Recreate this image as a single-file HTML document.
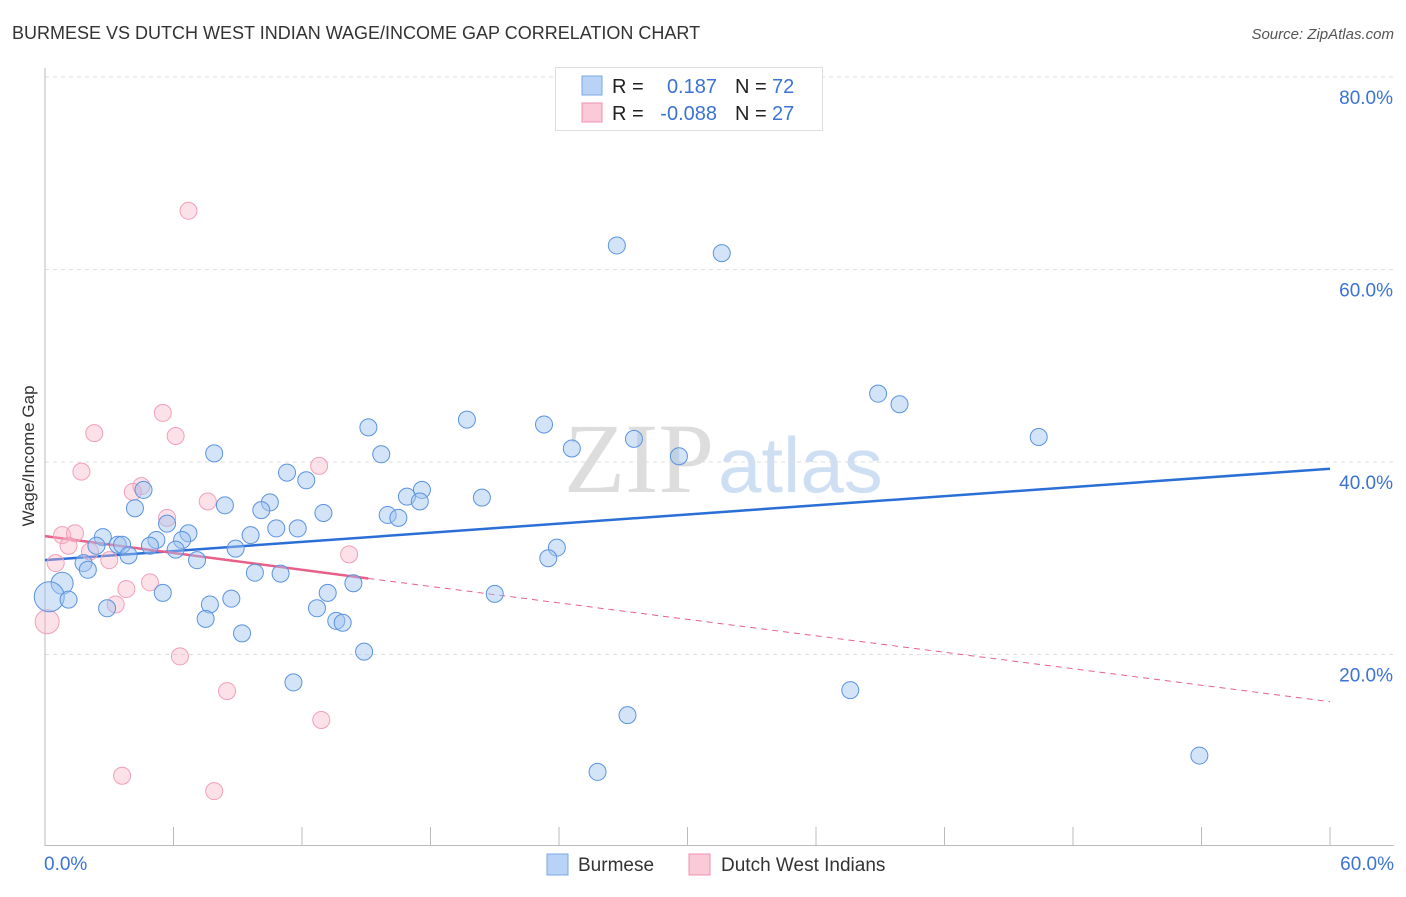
<!DOCTYPE html>
<html><head><meta charset="utf-8"><style>
body{margin:0;background:#fff;font-family:"Liberation Sans",sans-serif;}
svg text{font-family:"Liberation Sans",sans-serif;}
</style></head><body>
<svg id="chart" width="1406" height="892">
<text x="12" y="39" font-size="18" fill="#333">BURMESE VS DUTCH WEST INDIAN WAGE/INCOME GAP CORRELATION CHART</text>
<text x="1394" y="39" font-size="15" fill="#555" font-style="italic" text-anchor="end">Source: ZipAtlas.com</text>
<text x="714" y="492" font-size="100" fill="#ddd" style="font-family:'Liberation Serif',serif" text-anchor="end">ZIP</text>
<text x="718" y="492" font-size="78" fill="#cfdff3">atlas</text>
<g id="grid"></g><g id="axes"></g><g id="lines"></g><g id="pts"></g>
<text transform="translate(34,456) rotate(-90)" font-size="17" fill="#333" text-anchor="middle">Wage/Income Gap</text>
<g>
<rect x="555.5" y="67.5" width="267" height="63" fill="#fff" stroke="#ddd"/>
<rect x="582" y="76" width="20" height="19" fill="#b8d3f5" stroke="#7aa7e6"/>
<rect x="582" y="103" width="20" height="19" fill="#fbcad8" stroke="#f090ae"/>
<text x="612" y="93" font-size="20" fill="#222">R = </text><text x="717" y="93" font-size="20" fill="#3b73d4" text-anchor="end">0.187</text>
<text x="735" y="93" font-size="20" fill="#222">N = </text><text x="772" y="93" font-size="20" fill="#3b73d4">72</text>
<text x="612" y="120" font-size="20" fill="#222">R = </text><text x="717" y="120" font-size="20" fill="#3b73d4" text-anchor="end">-0.088</text>
<text x="735" y="120" font-size="20" fill="#222">N = </text><text x="772" y="120" font-size="20" fill="#3b73d4">27</text>
</g>
<g>
<rect x="547" y="854" width="21" height="21" fill="#b8d3f5" stroke="#7aa7e6"/>
<text x="578" y="871" font-size="19" fill="#333">Burmese</text>
<rect x="689" y="854" width="21" height="21" fill="#fbcad8" stroke="#f090ae"/>
<text x="721" y="871" font-size="19" fill="#333">Dutch West Indians</text>
</g>
</svg>
<script>
const blueX=[26.7,31.6,38.9,39.9,46.4,19.7,23.3,15.1,27.5,7.9,15.7,24.6,29.6,11.3,12.2,4.6,17.6,20.4,16.9,10.5,17.5,8.4,4.2,10.1,13.0,16.0,16.5,5.7,10.8,11.8,6.7,9.6,2.7,5.2,6.4,2.4,3.4,3.6,4.9,6.1,8.9,23.9,3.9,23.5,7.1,1.8,2.0,9.8,11.0,14.4,0.8,5.5,13.2,21.0,0.2,1.1,8.7,7.7,2.9,12.7,7.5,13.6,13.9,9.2,14.9,11.6,37.6,27.2,25.8,53.9];
const blueY=[62.5,61.7,47.1,46.0,42.6,44.4,43.9,43.6,42.4,40.9,40.8,41.4,40.6,38.9,38.1,37.1,37.1,36.3,36.4,35.8,35.9,35.5,35.2,35.0,34.7,34.5,34.2,33.6,33.1,33.1,32.6,32.4,32.2,31.9,31.9,31.3,31.4,31.4,31.3,30.9,31.0,31.1,30.3,30.0,29.8,29.5,28.8,28.5,28.4,27.4,27.4,26.4,26.4,26.3,26.0,25.7,25.8,25.2,24.8,24.8,23.7,23.5,23.3,22.2,20.3,17.1,16.3,13.7,7.8,9.5];
const blueBig=[0,0,0,0,0,0,0,0,0,0,0,0,0,0,0,0,0,0,0,0,0,0,0,0,0,0,0,0,0,0,0,0,0,0,0,0,0,0,0,0,0,0,0,0,0,0,0,0,0,0,1,0,0,0,2,0,0,0,0,0,0,0,0,0,0,0,0,0,0,0];
const pinkX=[6.7,5.5,2.3,6.1,1.7,12.8,4.5,4.1,7.6,5.7,0.8,1.4,1.1,2.1,3.0,0.5,14.2,4.9,3.8,3.3,0.1,6.3,8.5,12.9,3.6,7.9];
const pinkY=[66.1,45.1,43.0,42.7,39.0,39.6,37.5,36.9,35.9,34.2,32.4,32.6,31.3,30.7,29.8,29.5,30.4,27.5,26.8,25.2,23.4,19.8,16.2,13.2,7.4,5.8];
const yTicks=[20,40,60,80];
const xTickCount=10;
const blueTrend=[0,29.8,60,39.3];
const pinkTrend=[0,32.3,15.1,27.9,60,15.1];
const NS='http://www.w3.org/2000/svg';
const sx=v=>45+v/60*1285, sy=v=>847-v/80*770;
function mk(p,t,a){const e=document.createElementNS(NS,t);for(const k in a)e.setAttribute(k,a[k]);document.getElementById(p).appendChild(e);return e;}
yTicks.forEach(t=>{
 const l=mk('grid','line',{x1:45,x2:1394,y1:sy(t),y2:sy(t),stroke:'#ddd','stroke-dasharray':'4,4'});
 
 
 const tx=mk('grid','text',{x:1393,y:sy(t)+27,'font-size':19,fill:'#3b73d4','text-anchor':'end'});tx.textContent=t.toFixed(1)+'%';
 
 
});
const ax=mk('axes','line',{x1:45,x2:45,y1:68,y2:846,stroke:'#bbb'});


const bx=mk('axes','line',{x1:45,x2:1394,y1:845.5,y2:845.5,stroke:'#bbb'});


for(let i=1;i<=xTickCount;i++){const x=sx(i*6);const t=mk('axes','line',{x1:x,x2:x,y1:827,y2:845,stroke:'#bbb'});
 
 }
[[0,'start',44],[60,'end',1394]].forEach(([v,a,x])=>{const t=mk('axes','text',{x:x,y:870,'font-size':19,fill:'#3b73d4','text-anchor':a});t.textContent=v.toFixed(1)+'%';
 
 });
let l=mk('lines','line',{x1:sx(blueTrend[0]),y1:sy(blueTrend[1]),x2:sx(blueTrend[2]),y2:sy(blueTrend[3]),stroke:'#2a6fd6','stroke-width':2.5});


l=mk('lines','line',{x1:sx(pinkTrend[0]),y1:sy(pinkTrend[1]),x2:sx(pinkTrend[2]),y2:sy(pinkTrend[3]),stroke:'#e8608a','stroke-width':2.5});


l=mk('lines','line',{x1:sx(pinkTrend[2]),y1:sy(pinkTrend[3]),x2:sx(pinkTrend[4]),y2:sy(pinkTrend[5]),stroke:'#e8608a','stroke-width':1,'stroke-dasharray':'6,5'});


pinkX.forEach((v,i)=>{const c=mk('pts','circle',{cx:sx(v),cy:sy(pinkY[i]),r:i==20?12:8.5,fill:'rgba(248,180,200,0.4)',stroke:'#f0a0b8','stroke-width':1});
 
 });
blueX.forEach((v,i)=>{const c=mk('pts','circle',{cx:sx(v),cy:sy(blueY[i]),r:blueBig[i]==2?15:blueBig[i]==1?11:8.5,fill:'rgba(160,195,240,0.45)',stroke:'#5b93e0','stroke-width':1});
 
 });
</script>
</body></html>
